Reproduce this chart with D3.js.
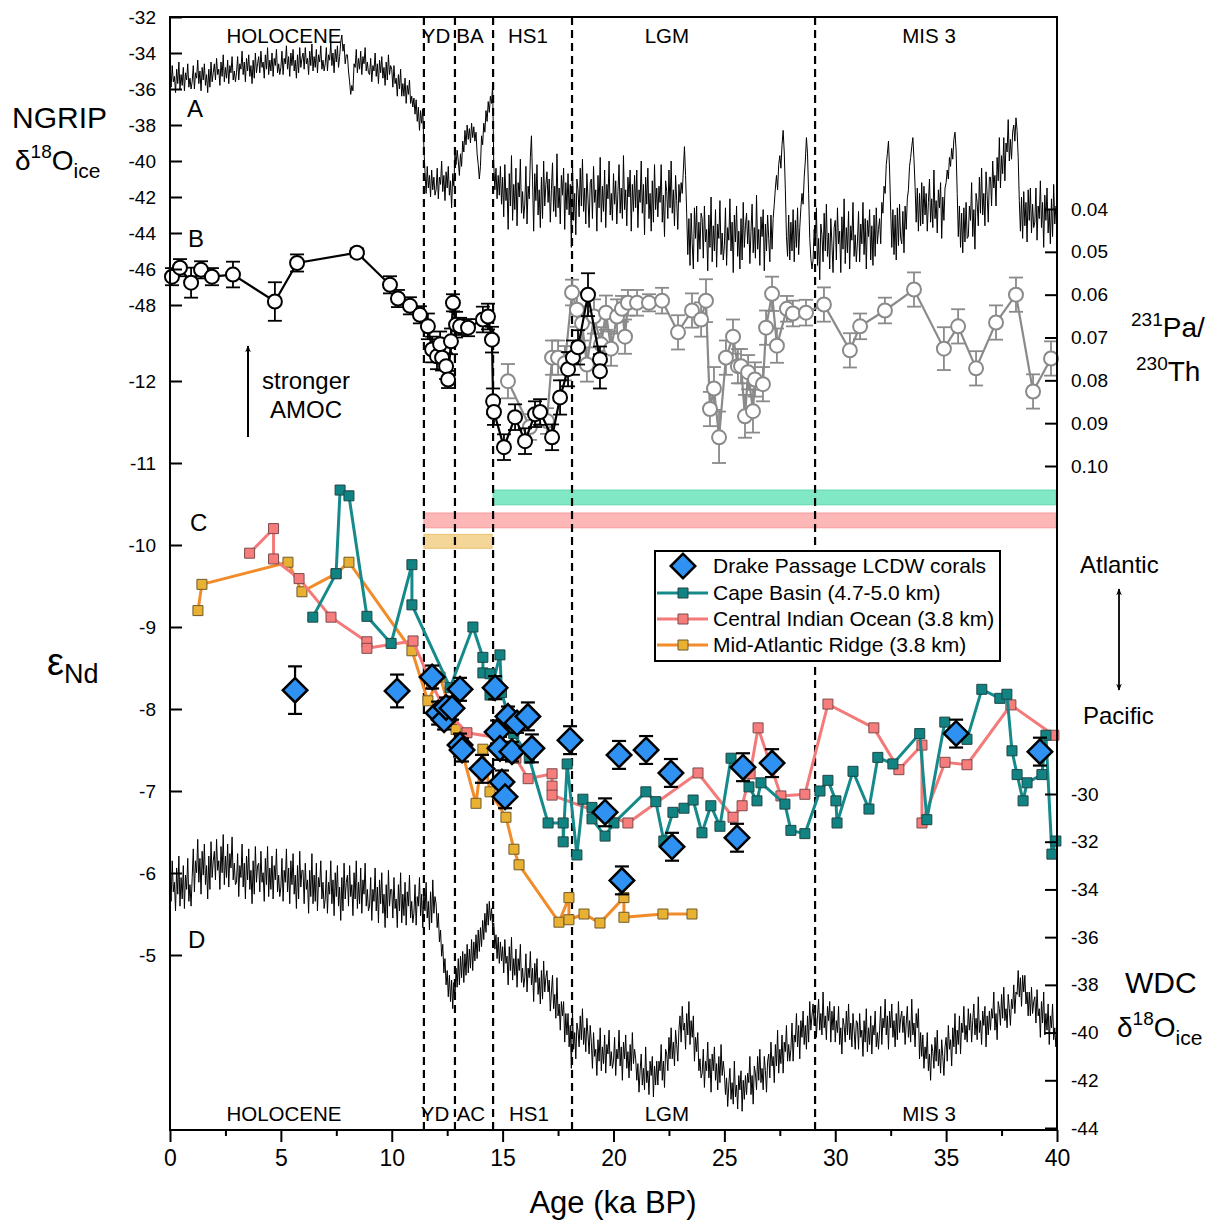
<!DOCTYPE html>
<html>
<head>
<meta charset="utf-8">
<script src="https://cdn.jsdelivr.net/npm/d3@7"></script>
<style>
  body { margin: 0; background: #fff; }
  svg { font-family: "Liberation Sans", Arial, sans-serif; }
</style>
</head>
<body>
<svg id="chart" width="1219" height="1220"></svg>
<script>
// ---- data ----
const boundaries = [11.45, 12.85, 14.57, 18.13, 29.09];
const periodTop = ['HOLOCENE', 'YD', 'BA', 'HS1', 'LGM', 'MIS 3'];
const periodTopAge = [5.14, 12.0, 13.53, 16.14, 22.41, 34.23];
const periodBottom = ['HOLOCENE', 'YD', 'AC', 'HS1', 'LGM', 'MIS 3'];
const periodBottomAge = [5.14, 11.95, 13.57, 16.19, 22.41, 34.23];

const xTicks = [0, 5, 10, 15, 20, 25, 30, 35, 40];
const xMinorTicks = [2.5, 7.5, 12.5, 17.5, 22.5, 27.5, 32.5, 37.5];
const ngripTicks = [-32, -34, -36, -38, -40, -42, -44, -46, -48];
const endTicks = [-12, -11, -10, -9, -8, -7, -6, -5];
const pathTicks = [0.04, 0.05, 0.06, 0.07, 0.08, 0.09, 0.10];
const wdcTicks = [-30, -32, -34, -36, -38, -40, -42, -44];

// ice cores, one value per 0.05 ka from 0 to 40 ka (one row = 1 ka)
const iceStep = 0.05;
const ngrip = [
  -35.0,-35.9,-34.7,-35.6,-35.3,-36.2,-34.9,-35.7,-34.5,-36.0,-35.2,-35.8,-34.8,-36.1,-35.1,-35.5,-34.6,-35.9,-35.4,-36.0,
  -35.6,-34.7,-36.0,-35.1,-35.4,-34.4,-35.7,-35.0,-36.1,-34.8,-35.5,-34.6,-35.8,-35.2,-36.2,-34.9,-35.9,-34.5,-35.6,-35.1,
  -34.6,-35.5,-34.3,-35.2,-34.9,-35.8,-34.5,-35.3,-34.1,-35.6,-34.8,-35.4,-34.4,-35.7,-34.7,-35.1,-34.2,-35.5,-35.0,-35.6,
  -35.1,-34.2,-35.5,-34.6,-34.9,-33.9,-35.2,-34.5,-35.6,-34.3,-35.0,-34.1,-35.3,-34.7,-35.7,-34.4,-35.4,-34.0,-35.1,-34.6,
  -34.2,-35.1,-33.9,-34.8,-34.5,-35.4,-34.1,-34.9,-33.7,-35.2,-34.4,-35.0,-34.0,-35.3,-34.3,-34.7,-33.8,-35.1,-34.6,-35.2,
  -34.8,-33.9,-35.2,-34.3,-34.6,-33.6,-34.9,-34.2,-35.3,-34.0,-34.7,-33.8,-35.0,-34.4,-35.4,-34.1,-35.1,-33.7,-34.8,-34.3,
  -34.0,-34.9,-33.7,-34.6,-34.3,-35.2,-33.9,-34.7,-33.5,-35.0,-34.2,-34.8,-33.8,-35.1,-34.1,-34.5,-33.6,-34.9,-34.4,-35.0,
  -34.6,-33.7,-35.0,-34.1,-34.4,-33.4,-34.7,-34.0,-35.1,-33.8,-34.5,-33.6,-34.8,-34.2,-33.4,-33.0,-33.9,-33.5,-34.6,-34.1,
  -34.1,-35.0,-35.6,-36.3,-35.8,-36.1,-34.6,-34.8,-33.8,-35.1,-34.3,-34.9,-33.9,-35.2,-34.2,-34.6,-33.7,-35.0,-34.5,-35.1,
  -35.2,-34.3,-35.6,-34.7,-35.0,-34.0,-35.3,-34.6,-35.7,-34.4,-35.1,-34.2,-35.4,-34.8,-35.8,-34.5,-35.5,-34.1,-35.2,-34.7,
  -34.9,-35.9,-34.7,-35.7,-35.4,-36.4,-35.2,-36.0,-34.9,-36.4,-35.7,-36.4,-35.4,-36.8,-35.8,-36.3,-35.5,-36.8,-36.4,-37.0,
  -36.5,-37.4,-36.6,-37.8,-37.0,-38.3,-37.2,-37.9,-37.1,-39.3,-40.6,-41.8,-40.3,-41.5,-40.8,-42.0,-40.5,-41.6,-40.9,-41.9,
  -41.6,-40.4,-42.1,-40.9,-41.3,-40.0,-41.7,-40.8,-42.2,-40.6,-41.5,-40.3,-41.9,-41.1,-42.6,-40.7,-41.4,-39.6,-40.2,-39.4,
  -40.0,-40.8,-39.6,-40.3,-38.9,-39.5,-38.3,-39.1,-38.0,-38.8,-38.2,-39.0,-37.9,-38.7,-38.1,-38.9,-38.4,-39.6,-40.2,-41.0,
  -40.3,-38.6,-39.1,-37.9,-38.4,-37.2,-37.8,-36.7,-37.3,-36.4,-36.8,-35.8,-40.2,-41.6,-40.4,-42.1,-40.8,-41.9,-40.3,-42.4,
  -40.9,-43.1,-40.2,-42.2,-41.5,-43.8,-40.7,-42.5,-39.7,-43.3,-41.3,-42.7,-40.4,-43.6,-41.2,-42.0,-39.9,-42.9,-41.7,-43.2,
  -42.4,-40.3,-43.5,-41.4,-42.1,-39.8,-38.6,-41.1,-43.9,-40.7,-42.2,-40.2,-43.0,-41.6,-43.7,-40.9,-43.2,-40.0,-42.5,-41.3,
  -40.6,-42.3,-41.0,-43.4,-41.6,-40.1,-42.8,-41.4,-43.1,-39.6,-42.6,-41.5,-43.5,-40.8,-41.9,-40.4,-43.8,-41.2,-42.7,-40.7,
  -43.0,-41.3,-44.8,-40.1,-43.3,-41.8,-44.1,-41.0,-41.6,-43.1,-40.4,-42.5,-39.9,-42.8,-41.5,-43.5,-40.7,-42.1,-43.7,-41.2,
  -41.0,-43.2,-40.3,-42.3,-41.6,-43.9,-40.8,-42.6,-39.8,-43.4,-41.4,-42.8,-40.5,-43.7,-41.3,-42.1,-40.0,-43.0,-41.8,-43.3,
  -40.7,-42.4,-41.1,-43.5,-41.7,-40.2,-42.9,-41.5,-43.2,-39.7,-42.7,-41.6,-43.6,-40.9,-42.0,-40.5,-43.9,-41.3,-42.8,-40.8,
  -42.6,-40.5,-43.7,-41.6,-42.3,-40.0,-42.9,-41.3,-44.1,-40.9,-42.4,-40.4,-43.2,-41.8,-43.9,-41.1,-43.4,-40.2,-42.7,-41.5,
  -43.1,-41.4,-42.3,-40.2,-43.4,-41.9,-44.2,-41.1,-41.7,-43.2,-40.5,-42.6,-40.0,-42.9,-41.6,-43.6,-40.8,-42.2,-43.8,-41.3,
  -42.3,-41.2,-41.8,-40.5,-39.2,-40.8,-42.9,-45.2,-43.2,-45.8,-42.9,-44.6,-46.0,-42.6,-44.3,-42.5,-45.6,-43.4,-44.9,-42.9,
  -43.2,-45.4,-42.5,-44.5,-43.8,-46.1,-43.0,-44.8,-42.0,-45.6,-43.6,-45.0,-42.7,-45.9,-43.5,-44.3,-42.2,-45.2,-44.0,-45.5,
  -44.7,-42.6,-45.8,-43.7,-44.4,-42.1,-45.0,-43.4,-46.2,-43.0,-44.5,-42.5,-45.3,-43.9,-46.0,-43.2,-45.5,-42.3,-44.8,-43.6,
  -42.9,-44.6,-43.3,-45.7,-43.9,-42.4,-45.1,-43.7,-45.4,-41.9,-44.9,-43.8,-45.8,-43.1,-44.2,-42.7,-46.1,-43.5,-45.0,-43.0,
  -44.3,-45.6,-43.0,-44.9,-43.2,-42.4,-41.5,-40.8,-41.6,-40.2,-39.7,-40.4,-39.1,-38.3,-39.5,-41.6,-44.2,-45.3,-43.0,-45.5,
  -43.4,-45.0,-42.7,-45.6,-43.3,-44.8,-42.6,-45.2,-43.7,-42.6,-41.8,-42.4,-40.9,-40.0,-38.7,-39.6,-41.8,-44.3,-45.4,-46.0,
  -45.5,-43.8,-44.7,-42.6,-45.8,-44.3,-46.6,-43.5,-44.1,-45.6,-42.9,-45.0,-42.4,-45.3,-44.0,-46.0,-43.2,-44.6,-46.2,-43.7,
  -43.3,-45.5,-42.6,-44.6,-43.9,-46.2,-43.1,-44.9,-42.1,-45.7,-43.7,-45.1,-42.8,-46.0,-43.6,-44.4,-42.3,-45.3,-44.1,-45.6,
  -44.5,-42.8,-45.6,-43.5,-44.6,-42.3,-45.2,-43.2,-46.0,-43.3,-44.2,-42.7,-45.5,-43.6,-45.8,-43.0,-45.3,-42.6,-44.6,-43.8,
  -43.2,-44.6,-42.3,-42.9,-41.4,-41.8,-40.2,-39.6,-38.9,-40.5,-42.8,-44.8,-42.7,-45.2,-43.0,-45.5,-42.6,-44.7,-42.4,-44.3,
  -44.6,-42.8,-45.1,-42.5,-43.8,-42.1,-41.6,-40.3,-39.8,-39.2,-38.7,-39.9,-41.4,-43.4,-41.5,-43.9,-41.8,-43.6,-41.2,-43.5,
  -41.4,-43.0,-41.8,-43.9,-42.3,-41.0,-43.4,-42.1,-43.7,-40.5,-43.2,-42.2,-44.0,-41.6,-42.6,-41.2,-44.3,-42.0,-43.3,-41.5,
  -41.2,-40.5,-41.0,-39.8,-40.3,-39.3,-39.9,-38.8,-38.4,-39.4,-41.8,-44.2,-42.5,-44.8,-42.9,-45.1,-42.6,-44.5,-42.3,-44.3,
  -44.2,-42.5,-43.3,-41.2,-44.2,-42.7,-44.9,-41.8,-42.3,-43.6,-40.9,-42.9,-40.4,-43.0,-41.8,-43.6,-40.6,-41.9,-43.4,-40.9,
  -40.9,-42.5,-40.0,-41.5,-40.8,-42.5,-39.8,-41.1,-38.7,-41.5,-39.7,-40.7,-38.7,-41.1,-39.0,-39.5,-37.7,-40.0,-38.8,-39.9,
  -38.4,-38.0,-38.9,-37.6,-38.3,-39.8,-42.2,-43.9,-42.0,-44.3,-41.7,-43.6,-42.3,-44.5,-41.6,-43.3,-41.5,-44.0,-42.4,-43.7,
  -43.4,-41.5,-44.4,-42.5,-43.2,-41.1,-43.7,-42.3,-44.8,-41.9,-43.3,-41.5,-44.0,-42.7,-44.6,-42.1,-44.2,-41.3,-43.5,-42.5,
  -42.6
];
const wdc = [
  -33.3,-34.5,-32.8,-34.1,-33.7,-34.9,-33.1,-34.2,-32.6,-34.7,-33.5,-34.4,-33.0,-34.8,-33.4,-34.0,-32.7,-34.5,-33.8,-34.7,
  -33.5,-32.3,-34.1,-32.8,-33.3,-31.9,-33.7,-32.7,-34.2,-32.4,-33.4,-32.1,-33.8,-33.0,-34.4,-32.6,-34.0,-32.0,-33.5,-32.8,
  -32.4,-33.6,-31.9,-33.2,-32.8,-34.0,-32.2,-33.3,-31.7,-33.8,-32.6,-33.5,-32.1,-33.9,-32.5,-33.1,-31.8,-33.6,-32.9,-33.8,
  -33.7,-32.5,-34.3,-33.0,-33.5,-32.1,-33.9,-32.9,-34.4,-32.6,-33.6,-32.3,-34.0,-33.2,-34.6,-32.8,-34.2,-32.2,-33.7,-33.0,
  -32.9,-34.1,-32.4,-33.7,-33.3,-34.5,-32.7,-33.8,-32.2,-34.3,-33.1,-34.0,-32.6,-34.4,-33.0,-33.6,-32.3,-34.1,-33.4,-34.3,
  -33.9,-32.7,-34.5,-33.2,-33.7,-32.3,-34.1,-33.1,-34.6,-32.8,-33.8,-32.5,-34.2,-33.4,-34.8,-33.0,-34.4,-32.4,-33.9,-33.2,
  -33.2,-34.6,-32.9,-34.0,-33.6,-35.0,-33.2,-34.3,-32.5,-34.6,-33.4,-34.5,-32.9,-34.9,-33.5,-33.9,-32.8,-34.4,-33.7,-34.8,
  -34.4,-33.2,-35.0,-33.7,-34.2,-32.8,-34.6,-33.6,-35.1,-33.3,-34.3,-33.0,-34.7,-33.9,-35.3,-33.5,-34.9,-32.9,-34.4,-33.7,
  -33.4,-34.7,-33.0,-34.3,-33.8,-35.1,-33.3,-34.4,-32.8,-34.8,-33.7,-34.6,-33.1,-35.0,-33.6,-34.2,-32.9,-34.7,-34.0,-34.9,
  -34.7,-33.5,-35.3,-34.0,-34.5,-33.1,-34.9,-33.9,-35.4,-33.6,-34.6,-33.3,-35.0,-34.2,-35.6,-33.8,-35.2,-33.2,-34.7,-34.0,
  -34.0,-35.2,-33.5,-34.8,-34.4,-35.6,-33.8,-34.9,-33.3,-35.4,-34.2,-35.1,-33.7,-35.5,-34.1,-34.7,-33.4,-35.2,-34.5,-35.4,
  -35.0,-33.8,-35.5,-34.3,-34.7,-33.5,-35.1,-34.2,-35.6,-34.0,-34.9,-33.7,-35.2,-34.5,-35.7,-34.1,-35.4,-33.6,-35.0,-34.3,
  -34.6,-35.6,-35.0,-36.2,-35.7,-36.8,-36.3,-37.5,-36.9,-38.0,-37.4,-38.5,-37.6,-38.7,-37.8,-39.0,-37.9,-38.6,-37.3,-38.1,
  -36.9,-38.0,-36.8,-37.7,-36.6,-37.9,-36.7,-37.6,-36.3,-37.5,-36.5,-37.3,-36.1,-37.4,-36.2,-37.0,-35.9,-36.9,-35.7,-36.6,
  -35.6,-36.4,-35.3,-36.1,-35.0,-35.8,-34.6,-35.5,-34.5,-35.3,-34.8,-35.6,-35.4,-36.5,-35.9,-36.9,-36.0,-37.1,-36.2,-37.0,
  -36.4,-37.5,-36.1,-37.1,-36.8,-38.0,-36.4,-37.4,-36.0,-37.8,-36.9,-37.6,-36.5,-38.1,-36.9,-37.4,-36.3,-37.9,-37.3,-38.1,
  -37.7,-36.7,-38.3,-37.3,-37.7,-36.6,-38.0,-37.3,-38.7,-37.1,-37.9,-36.9,-38.4,-37.7,-38.8,-37.4,-38.6,-37.0,-38.3,-37.7,
  -37.4,-38.3,-37.8,-39.1,-38.3,-37.6,-39.0,-38.4,-39.4,-37.7,-39.3,-38.8,-39.9,-38.7,-39.3,-38.7,-40.4,-39.2,-40.1,-39.2,
  -40.6,-39.7,-41.5,-39.1,-40.7,-40.0,-41.1,-39.6,-39.9,-40.6,-39.3,-40.3,-39.0,-40.5,-39.8,-40.8,-39.4,-40.1,-40.9,-39.7,
  -40.4,-41.5,-40.0,-41.0,-40.7,-41.8,-40.3,-41.2,-39.8,-41.6,-40.6,-41.3,-40.1,-41.7,-40.5,-40.9,-39.9,-41.4,-40.8,-41.5,
  -41.2,-40.2,-41.8,-40.7,-41.1,-39.9,-41.4,-40.6,-42.0,-40.4,-41.1,-40.1,-41.5,-40.8,-41.9,-40.5,-41.6,-40.0,-41.3,-40.7,
  -41.1,-42.0,-41.3,-42.5,-41.6,-40.9,-42.2,-41.5,-42.4,-40.6,-42.1,-41.6,-42.6,-41.2,-41.8,-41.0,-42.7,-41.4,-42.2,-41.2,
  -42.2,-41.2,-41.6,-40.5,-42.0,-41.2,-42.3,-40.7,-40.9,-41.6,-40.2,-41.1,-39.8,-41.1,-40.4,-41.4,-39.9,-40.5,-41.2,-39.9,
  -39.3,-40.4,-38.9,-39.9,-39.6,-40.7,-39.2,-40.1,-38.7,-40.5,-39.5,-40.2,-39.3,-41.2,-40.2,-40.8,-40.0,-41.6,-41.1,-41.9,
  -41.7,-40.7,-42.3,-41.2,-41.6,-40.4,-41.9,-41.1,-42.5,-40.9,-41.6,-40.6,-42.0,-41.3,-42.4,-41.0,-42.1,-40.5,-41.8,-41.2,
  -41.7,-42.6,-41.9,-43.1,-42.2,-41.5,-42.8,-42.1,-43.0,-41.2,-42.7,-42.2,-43.2,-41.8,-42.4,-41.6,-43.3,-42.0,-42.8,-41.8,
  -42.6,-41.7,-42.1,-41.0,-42.6,-41.8,-43.0,-41.4,-41.7,-42.4,-41.0,-42.0,-40.7,-42.1,-41.5,-42.4,-41.0,-41.6,-42.5,-41.2,
  -40.9,-41.9,-40.4,-41.4,-41.0,-42.1,-40.5,-41.4,-39.9,-41.7,-40.7,-41.3,-40.1,-41.7,-40.4,-40.8,-39.7,-41.2,-40.5,-41.2,
  -40.7,-39.6,-41.2,-40.1,-40.4,-39.2,-40.6,-39.7,-41.1,-39.5,-40.2,-39.1,-40.5,-39.7,-40.7,-39.3,-40.4,-38.7,-39.9,-39.3,
  -38.8,-39.7,-39.0,-40.2,-39.3,-38.6,-39.9,-39.2,-40.1,-38.3,-39.8,-39.3,-40.3,-38.9,-39.5,-38.7,-40.4,-39.1,-39.9,-38.9,
  -40.4,-39.5,-40.0,-38.9,-40.5,-39.8,-40.9,-39.4,-39.7,-40.4,-39.1,-40.1,-38.8,-40.3,-39.6,-40.6,-39.2,-39.9,-40.7,-39.5,
  -39.6,-40.7,-39.2,-40.2,-39.9,-41.0,-39.5,-40.4,-39.0,-40.8,-39.8,-40.5,-39.3,-40.9,-39.7,-40.1,-39.1,-40.6,-40.0,-40.7,
  -39.9,-38.9,-40.5,-39.4,-39.8,-38.6,-40.1,-39.3,-40.7,-39.1,-39.8,-38.8,-40.2,-39.5,-40.6,-39.2,-40.3,-38.7,-40.0,-39.4,
  -39.1,-40.0,-39.3,-40.5,-39.6,-38.9,-40.2,-39.5,-40.4,-38.6,-40.1,-39.6,-40.6,-39.2,-39.8,-39.0,-41.1,-40.0,-41.0,-40.1,
  -41.5,-40.6,-41.1,-40.0,-41.6,-40.9,-42.0,-40.5,-40.8,-41.5,-40.2,-41.2,-39.9,-41.4,-40.7,-41.7,-40.3,-41.0,-41.8,-40.6,
  -40.2,-41.2,-39.7,-40.7,-40.3,-41.4,-39.8,-40.6,-39.2,-40.9,-39.9,-40.5,-39.3,-40.9,-39.6,-40.0,-38.9,-40.3,-39.7,-40.4,
  -39.0,-39.9,-39.2,-40.4,-39.5,-38.8,-40.1,-39.4,-40.3,-38.5,-40.0,-39.5,-40.5,-39.1,-39.7,-38.9,-40.6,-39.3,-40.1,-39.1,
  -39.9,-39.0,-39.4,-38.3,-39.9,-39.2,-40.3,-38.7,-39.0,-39.7,-38.4,-39.4,-38.1,-39.5,-39.0,-39.8,-38.4,-39.0,-39.7,-38.6,
  -39.0,-38.0,-39.2,-38.3,-38.4,-37.4,-38.5,-37.7,-38.9,-37.6,-38.3,-37.6,-38.8,-38.3,-39.3,-38.3,-39.3,-38.1,-39.2,-38.7,
  -38.5,-39.6,-38.2,-39.3,-39.0,-40.2,-38.7,-39.6,-38.3,-40.1,-39.2,-39.9,-38.8,-40.5,-39.3,-39.8,-38.8,-40.3,-39.8,-40.6,
  -39.9
];

// 231Pa/230Th  [age ka, ratio, error]
const pathBlack = [
  [0.09,0.0558,0.002],[0.45,0.0537,0.002],[0.95,0.0572,0.0035],[1.40,0.0542,0.002],
  [1.89,0.0558,0.002],[2.84,0.0553,0.003],[4.73,0.0616,0.0045],[5.73,0.0526,0.002],
  [8.43,0.0502,0.001],[9.92,0.0577,0.002],[10.28,0.0609,0.002],[10.82,0.0626,0.002],
  [11.27,0.0647,0.002],[11.63,0.0674,0.003],[11.82,0.0728,0.003],[12.04,0.0744,0.003],
  [12.18,0.0716,0.003],[12.27,0.0747,0.003],[12.45,0.0767,0.003],[12.54,0.0798,0.002],
  [12.67,0.0709,0.003],[12.76,0.0619,0.002],[12.90,0.0670,0.003],[13.08,0.0674,0.002],
  [13.44,0.0677,0.002],[14.11,0.0658,0.003],[14.34,0.0651,0.003],[14.52,0.0705,0.003],
  [14.57,0.0849,0.003],[14.61,0.0874,0.003],[15.06,0.0956,0.003],[15.56,0.0886,0.003],
  [16.01,0.0942,0.003],[16.46,0.0879,0.003],[16.69,0.0874,0.003],[17.23,0.0933,0.003],
  [17.59,0.0840,0.004],[17.95,0.0774,0.004],[18.17,0.0747,0.004],[18.40,0.0723,0.004],
  [18.85,0.0600,0.005],[19.39,0.0751,0.003],[19.39,0.0779,0.004]
];
const pathGray = [
  [15.24,0.0802,0.004],[16.23,0.0909,0.003],[17.00,0.0895,0.003],[17.23,0.0747,0.004],
  [17.50,0.0747,0.004],[17.81,0.0760,0.004],[18.13,0.0595,0.003],[18.35,0.0635,0.004],
  [18.58,0.0667,0.004],[18.80,0.0763,0.004],[19.12,0.0651,0.004],[19.44,0.0716,0.004],
  [19.66,0.0642,0.004],[19.89,0.0726,0.004],[20.16,0.0651,0.004],[20.38,0.0633,0.003],
  [20.52,0.0698,0.004],[20.65,0.0619,0.003],[21.06,0.0619,0.003],[21.60,0.0619,0.002],
  [22.19,0.0614,0.003],[22.91,0.0688,0.004],[23.54,0.0637,0.004],[23.95,0.0658,0.004],
  [24.17,0.0614,0.005],[24.35,0.0867,0.004],[24.53,0.0819,0.005],[24.76,0.0933,0.006],
  [25.07,0.0747,0.004],[25.39,0.0698,0.004],[25.61,0.0767,0.004],[25.75,0.0767,0.004],
  [25.93,0.0884,0.005],[26.07,0.0781,0.004],[26.29,0.0872,0.005],[26.38,0.0798,0.004],
  [26.74,0.0809,0.004],[26.88,0.0677,0.004],[27.15,0.0598,0.004],[27.37,0.0719,0.004],
  [27.82,0.0633,0.003],[28.09,0.0644,0.003],[28.68,0.0642,0.003],[29.49,0.0623,0.004],
  [30.66,0.0730,0.004],[31.12,0.0674,0.003],[32.24,0.0637,0.003],[33.55,0.0588,0.004],
  [34.90,0.0726,0.005],[35.54,0.0674,0.004],[36.35,0.0772,0.004],[37.25,0.0665,0.004],
  [38.15,0.0600,0.004],[38.92,0.0826,0.004],[39.73,0.0749,0.004]
];

// eNd records [age ka, eNd]
const capeBasin = [
  [6.44,-9.12],[7.49,-9.65],[7.67,-10.67],[8.07,-10.60],[8.88,-9.13],[9.97,-8.80],
  [10.91,-9.76],[10.91,-9.27],[12.63,-8.26],[13.66,-9.00],[14.11,-8.63],[14.11,-8.44],
  [14.43,-8.43],[14.43,-8.17],[14.88,-8.66],[14.95,-8.20],[15.5,-7.7],[16.2,-7.4],
  [17.05,-6.61],[17.73,-6.61],[17.73,-6.38],[17.91,-7.33],[18.35,-6.22],[18.62,-6.90],
  [19.03,-6.80],[19.03,-6.66],[19.62,-6.45],[20.02,-6.61],[21.46,-6.99],[21.91,-6.87],
  [22.27,-6.39],[22.68,-6.74],[23.18,-6.79],[23.59,-6.89],[23.99,-6.49],[24.39,-6.82],
  [24.80,-6.57],[25.30,-7.40],[26.11,-7.05],[26.47,-6.88],[26.65,-7.10],[27.73,-6.84],
  [28.00,-6.52],[28.63,-6.48],[29.31,-7.00],[29.67,-7.13],[30.03,-6.88],[30.08,-6.61],
  [30.80,-7.24],[31.52,-6.78],[31.92,-7.41],[32.60,-7.33],[33.81,-7.70],[34.13,-6.65],
  [34.94,-7.84],[35.94,-7.63],[36.61,-8.24],[37.42,-8.13],[37.74,-8.18],[37.97,-7.49],
  [38.20,-7.20],[38.47,-6.88],[38.65,-7.10],[39.32,-7.20],[39.50,-7.68],[39.77,-6.23],
  [39.95,-6.39]
];
const indianOcean = [
  [3.59,-9.90],[4.67,-10.20],[4.67,-9.83],[5.82,-9.59],[7.26,-9.12],[8.88,-8.82],
  [8.88,-8.74],[10.96,-8.83],[11.8,-8.3],[12.4,-8.0],[13.39,-7.71],[14.8,-7.65],
  [15.6,-7.4],[16.15,-7.15],[17.23,-7.21],[17.23,-7.06],[17.23,-6.95],[20.65,-6.61],
  [23.81,-7.22],[25.39,-6.68],[25.80,-6.82],[26.16,-7.21],[26.52,-7.77],[27.55,-6.94],
  [28.63,-6.96],[29.67,-8.06],[31.74,-7.77],[32.87,-7.26],[33.91,-7.56],[33.91,-6.61],
  [34.95,-7.35],[35.94,-7.32],[37.92,-8.05],[39.86,-7.68]
];
const midAtlantic = [
  [1.26,-9.20],[1.44,-9.52],[5.32,-9.79],[5.95,-9.43],[7.49,-9.65],[8.07,-9.79],
  [10.91,-8.71],[11.63,-8.10],[12.18,-8.39],[12.9,-7.75],[13.80,-6.85],[14.11,-7.51],
  [14.43,-6.99],[15.15,-6.68],[15.51,-6.29],[15.74,-6.10],[17.54,-5.40],[17.99,-5.70],
  [17.99,-5.43],[18.67,-5.50],[19.39,-5.39],[20.47,-5.70],[20.47,-5.46],[22.23,-5.50],
  [23.54,-5.50]
];
// Drake Passage corals [age ka, eNd, error]
const corals = [
  [5.64,-8.23,0.29],[10.24,-8.22,0.2],[11.82,-8.39,0.14],[12.09,-7.95,0.14],[12.36,-7.87,0.12],
  [12.45,-8.02,0.12],[12.72,-8.01,0.14],[13.08,-8.24,0.14],[13.08,-7.56,0.14],[13.17,-7.50,0.14],
  [14.07,-7.27,0.17],[14.66,-8.26,0.14],[14.75,-7.72,0.14],[14.88,-7.52,0.14],[14.97,-7.11,0.14],
  [15.11,-6.93,0.14],[15.24,-7.91,0.12],[15.42,-7.48,0.12],[15.65,-7.83,0.12],[16.14,-7.91,0.17],
  [16.32,-7.52,0.17],[18.04,-7.62,0.17],[19.62,-6.74,0.17],[20.25,-7.44,0.17],[20.38,-5.91,0.17],
  [21.47,-7.50,0.17],[22.59,-7.22,0.17],[22.64,-6.32,0.17],[25.57,-6.43,0.17],[25.84,-7.29,0.17],
  [27.15,-7.34,0.17],[35.45,-7.70,0.17],[39.23,-7.48,0.17]
];
// source-water ranges shown as bars [start ka, end ka, eNd top, eNd bottom]
const rangeBars = [[14.57, 40, -10.67, -10.49], [11.45, 40, -10.39, -10.21], [11.45, 14.57, -10.13, -9.96]];
const rangeColors = ['#80e8c5', '#fdb7b7', '#f3d698'];
const rangeStroke = ['#5fd8aa', '#f59a9a', '#e8c270'];

// ---- chart ----
const svg = d3.select('#chart');
const plotL = 170, plotR = 1057, plotT = 17, plotB = 1130;

const x = d3.scaleLinear().domain([0, 40]).range([plotL, plotR]);
const yNgrip = d3.scaleLinear().domain([-32, -48]).range([17, 305]);
const yPaTh = d3.scaleLinear().domain([0.04, 0.10]).range([209, 466]);
const yEnd = d3.scaleLinear().domain([-12, -5]).range([381, 955]);
const yWdc = d3.scaleLinear().domain([-30, -44]).range([794, 1128]);

svg.append('clipPath').attr('id', 'plotClip')
  .append('rect').attr('x', plotL).attr('y', plotT).attr('width', plotR - plotL).attr('height', plotB - plotT);

// range bars
svg.append('g').selectAll('rect')
  .data(rangeBars)
  .join('rect')
  .attr('x', d => x(d[0]))
  .attr('y', d => yEnd(d[2]))
  .attr('width', d => x(d[1]) - x(d[0]) - 1)
  .attr('height', d => yEnd(d[3]) - yEnd(d[2]))
  .attr('fill', (d, i) => rangeColors[i])
  .attr('stroke', (d, i) => rangeStroke[i])
  .attr('stroke-width', 1);

// dashed period boundaries
svg.append('g').selectAll('line')
  .data(boundaries)
  .join('line')
  .attr('x1', d => x(d)).attr('x2', d => x(d))
  .attr('y1', plotT).attr('y2', plotB)
  .attr('stroke', '#000').attr('stroke-width', 2.2)
  .attr('stroke-dasharray', '8,5');

// ice cores
const iceLine = yScale => d3.line().x((d, i) => x(i * iceStep)).y(d => yScale(d));
const iceG = svg.append('g').attr('clip-path', 'url(#plotClip)');
iceG.append('path').datum(ngrip).attr('d', iceLine(yNgrip))
  .attr('fill', 'none').attr('stroke', '#000').attr('stroke-width', 1);
iceG.append('path').datum(wdc).attr('d', iceLine(yWdc))
  .attr('fill', 'none').attr('stroke', '#000').attr('stroke-width', 1);

// Pa/Th
function drawPaTh(data, color) {
  const g = svg.append('g');
  g.append('path').datum(data)
    .attr('d', d3.line().x(d => x(d[0])).y(d => yPaTh(d[1])))
    .attr('fill', 'none').attr('stroke', color).attr('stroke-width', 2.2);
  const eb = g.selectAll('g.eb').data(data).join('g').attr('class', 'eb')
    .attr('stroke', color).attr('stroke-width', 1.8);
  eb.append('line')
    .attr('x1', d => x(d[0])).attr('x2', d => x(d[0]))
    .attr('y1', d => yPaTh(d[1] - d[2])).attr('y2', d => yPaTh(d[1] + d[2]));
  eb.append('line')
    .attr('x1', d => x(d[0]) - 7).attr('x2', d => x(d[0]) + 7)
    .attr('y1', d => yPaTh(d[1] - d[2])).attr('y2', d => yPaTh(d[1] - d[2]));
  eb.append('line')
    .attr('x1', d => x(d[0]) - 7).attr('x2', d => x(d[0]) + 7)
    .attr('y1', d => yPaTh(d[1] + d[2])).attr('y2', d => yPaTh(d[1] + d[2]));
  g.selectAll('circle').data(data).join('circle')
    .attr('cx', d => x(d[0])).attr('cy', d => yPaTh(d[1])).attr('r', 7)
    .attr('fill', '#fff').attr('stroke', color).attr('stroke-width', 2);
}
drawPaTh(pathGray, '#8a8a8a');
drawPaTh(pathBlack, '#000');

// eNd records
const square = d3.symbol(d3.symbolSquare, 100);
function drawEnd(data, lineColor, fill, stroke) {
  const g = svg.append('g');
  g.append('path').datum(data)
    .attr('d', d3.line().x(d => x(d[0])).y(d => yEnd(d[1])))
    .attr('fill', 'none').attr('stroke', lineColor).attr('stroke-width', 3);
  g.selectAll('path.pt').data(data).join('path').attr('class', 'pt')
    .attr('d', square)
    .attr('transform', d => `translate(${x(d[0])},${yEnd(d[1])})`)
    .attr('fill', fill).attr('stroke', stroke).attr('stroke-width', 1);
}
drawEnd(midAtlantic, '#f28c2a', '#e9b132', '#6e5a2a');
drawEnd(indianOcean, '#f47a7a', '#f77d7d', '#7a4a4a');
drawEnd(capeBasin, '#168a8a', '#118383', '#1f4545');

// corals
const diamond = d3.symbol(d3.symbolSquare, 300);
const cg = svg.append('g');
const ceb = cg.selectAll('g').data(corals).join('g').attr('stroke', '#000').attr('stroke-width', 2.2);
ceb.append('line')
  .attr('x1', d => x(d[0])).attr('x2', d => x(d[0]))
  .attr('y1', d => yEnd(d[1] - d[2])).attr('y2', d => yEnd(d[1] + d[2]));
ceb.append('line')
  .attr('x1', d => x(d[0]) - 7).attr('x2', d => x(d[0]) + 7)
  .attr('y1', d => yEnd(d[1] - d[2])).attr('y2', d => yEnd(d[1] - d[2]));
ceb.append('line')
  .attr('x1', d => x(d[0]) - 7).attr('x2', d => x(d[0]) + 7)
  .attr('y1', d => yEnd(d[1] + d[2])).attr('y2', d => yEnd(d[1] + d[2]));
cg.selectAll('path').data(corals).join('path')
  .attr('d', diamond)
  .attr('transform', d => `translate(${x(d[0])},${yEnd(d[1])}) rotate(45)`)
  .attr('fill', '#2f92f2').attr('stroke', '#000').attr('stroke-width', 2.5);

// ---- axes ----
function styleAxis(g, size) {
  g.selectAll('text').attr('font-size', size).attr('font-family', '"Liberation Sans", Arial, sans-serif').attr('fill', '#000');
  g.selectAll('line').attr('stroke', '#000').attr('stroke-width', 2);
  g.select('.domain').remove();
}
svg.append('g').attr('transform', `translate(${plotL},0)`)
  .call(d3.axisLeft(yNgrip).tickValues(ngripTicks).tickSize(-12).tickPadding(14).tickFormat(d => String(d)))
  .call(g => styleAxis(g, 19));
svg.append('g').attr('transform', `translate(${plotL},0)`)
  .call(d3.axisLeft(yEnd).tickValues(endTicks).tickSize(-12).tickPadding(14).tickFormat(d => String(d)))
  .call(g => styleAxis(g, 19));
svg.append('g').attr('transform', `translate(${plotR},0)`)
  .call(d3.axisRight(yPaTh).tickValues(pathTicks).tickSize(-12).tickPadding(14).tickFormat(d => d.toFixed(2)))
  .call(g => styleAxis(g, 19));
svg.append('g').attr('transform', `translate(${plotR},0)`)
  .call(d3.axisRight(yWdc).tickValues(wdcTicks).tickSize(-12).tickPadding(14).tickFormat(d => String(d)))
  .call(g => styleAxis(g, 19));
svg.append('g').attr('transform', `translate(0,${plotB})`)
  .call(d3.axisBottom(x).tickValues(xTicks).tickSize(12).tickPadding(8).tickFormat(d => String(d)))
  .call(g => styleAxis(g, 23));
svg.append('g').attr('transform', `translate(0,${plotB})`)
  .call(d3.axisBottom(x).tickValues(xMinorTicks).tickSize(6).tickFormat(''))
  .call(g => styleAxis(g, 10));

svg.append('rect')
  .attr('x', plotL).attr('y', plotT).attr('width', plotR - plotL).attr('height', plotB - plotT)
  .attr('fill', 'none').attr('stroke', '#000').attr('stroke-width', 2);

// period labels
svg.append('g').selectAll('text').data(periodTop).join('text')
  .attr('x', (d, i) => x(periodTopAge[i])).attr('y', 43)
  .attr('text-anchor', 'middle').attr('font-size', 20.5).text(d => d);
svg.append('g').selectAll('text').data(periodBottom).join('text')
  .attr('x', (d, i) => x(periodBottomAge[i])).attr('y', 1121)
  .attr('text-anchor', 'middle').attr('font-size', 20.5).text(d => d);

// panel letters
[['A', 187, 117], ['B', 188, 247], ['C', 190, 531], ['D', 188, 948]].forEach(([t, px, py]) => {
  svg.append('text').attr('x', px).attr('y', py).attr('font-size', 24).text(t);
});

// axis titles
svg.append('text').attr('x', 613).attr('y', 1213).attr('text-anchor', 'middle')
  .attr('font-size', 31).text('Age (ka BP)');

svg.append('text').attr('x', 12).attr('y', 128).attr('font-size', 30).text('NGRIP');
let t = svg.append('text').attr('x', 15).attr('y', 170).attr('font-size', 28);
t.append('tspan').text('δ');
t.append('tspan').attr('font-size', 19).attr('dy', -12).text('18');
t.append('tspan').attr('dy', 12).text('O');
t.append('tspan').attr('font-size', 21).attr('dy', 8).text('ice');

t = svg.append('text').attr('x', 47).attr('y', 675).attr('font-size', 38);
t.append('tspan').text('ε');
t.append('tspan').attr('font-size', 27).attr('dy', 8).text('Nd');

t = svg.append('text').attr('x', 1131).attr('y', 337).attr('font-size', 28);
t.append('tspan').attr('font-size', 19).attr('dy', -11).text('231');
t.append('tspan').attr('dy', 11).text('Pa/');
t = svg.append('text').attr('x', 1136).attr('y', 381).attr('font-size', 28);
t.append('tspan').attr('font-size', 19).attr('dy', -11).text('230');
t.append('tspan').attr('dy', 11).text('Th');

svg.append('text').attr('x', 1125).attr('y', 993).attr('font-size', 30).text('WDC');
t = svg.append('text').attr('x', 1117).attr('y', 1037).attr('font-size', 28);
t.append('tspan').text('δ');
t.append('tspan').attr('font-size', 19).attr('dy', -12).text('18');
t.append('tspan').attr('dy', 12).text('O');
t.append('tspan').attr('font-size', 21).attr('dy', 8).text('ice');

// annotations
const defs = svg.append('defs');
defs.append('marker').attr('id', 'arrow').attr('viewBox', '0 0 10 10')
  .attr('refX', 9).attr('refY', 5).attr('markerWidth', 7).attr('markerHeight', 9)
  .attr('markerUnits', 'userSpaceOnUse').attr('orient', 'auto-start-reverse')
  .append('path').attr('d', 'M0,1 L10,5 L0,9 L3,5 Z').attr('fill', '#000');

svg.append('line').attr('x1', 248).attr('x2', 248).attr('y1', 437).attr('y2', 346)
  .attr('stroke', '#000').attr('stroke-width', 2).attr('marker-end', 'url(#arrow)');
svg.append('text').attr('x', 262).attr('y', 389).attr('font-size', 24).text('stronger');
svg.append('text').attr('x', 270).attr('y', 418).attr('font-size', 24).text('AMOC');

svg.append('text').attr('x', 1080).attr('y', 573).attr('font-size', 24).text('Atlantic');
svg.append('text').attr('x', 1083).attr('y', 724).attr('font-size', 24).text('Pacific');
svg.append('line').attr('x1', 1119).attr('x2', 1119).attr('y1', 589).attr('y2', 690)
  .attr('stroke', '#000').attr('stroke-width', 1.8)
  .attr('marker-start', 'url(#arrow)').attr('marker-end', 'url(#arrow)');

// legend
const lg = svg.append('g');
lg.append('rect').attr('x', 655).attr('y', 551).attr('width', 345).attr('height', 110)
  .attr('fill', '#fff').attr('stroke', '#000').attr('stroke-width', 2);
lg.append('path').attr('d', diamond)
  .attr('transform', 'translate(683,566) rotate(45)')
  .attr('fill', '#2f92f2').attr('stroke', '#000').attr('stroke-width', 2.5);
const legendItems = [
  ['Cape Basin (4.7-5.0 km)', '#168a8a', '#118383', '#1f4545'],
  ['Central Indian Ocean (3.8 km)', '#f47a7a', '#f77d7d', '#7a4a4a'],
  ['Mid-Atlantic Ridge (3.8 km)', '#f28c2a', '#e9b132', '#6e5a2a']
];
lg.append('text').attr('x', 713).attr('y', 573).attr('font-size', 21).text('Drake Passage LCDW corals');
legendItems.forEach(([label, lc, fc, sc], i) => {
  const yy = 593 + i * 26;
  lg.append('line').attr('x1', 657).attr('x2', 708).attr('y1', yy).attr('y2', yy)
    .attr('stroke', lc).attr('stroke-width', 3);
  lg.append('path').attr('d', square).attr('transform', `translate(683,${yy})`)
    .attr('fill', fc).attr('stroke', sc).attr('stroke-width', 1);
  lg.append('text').attr('x', 713).attr('y', yy + 7).attr('font-size', 21).text(label);
});
</script>
</body>
</html>
